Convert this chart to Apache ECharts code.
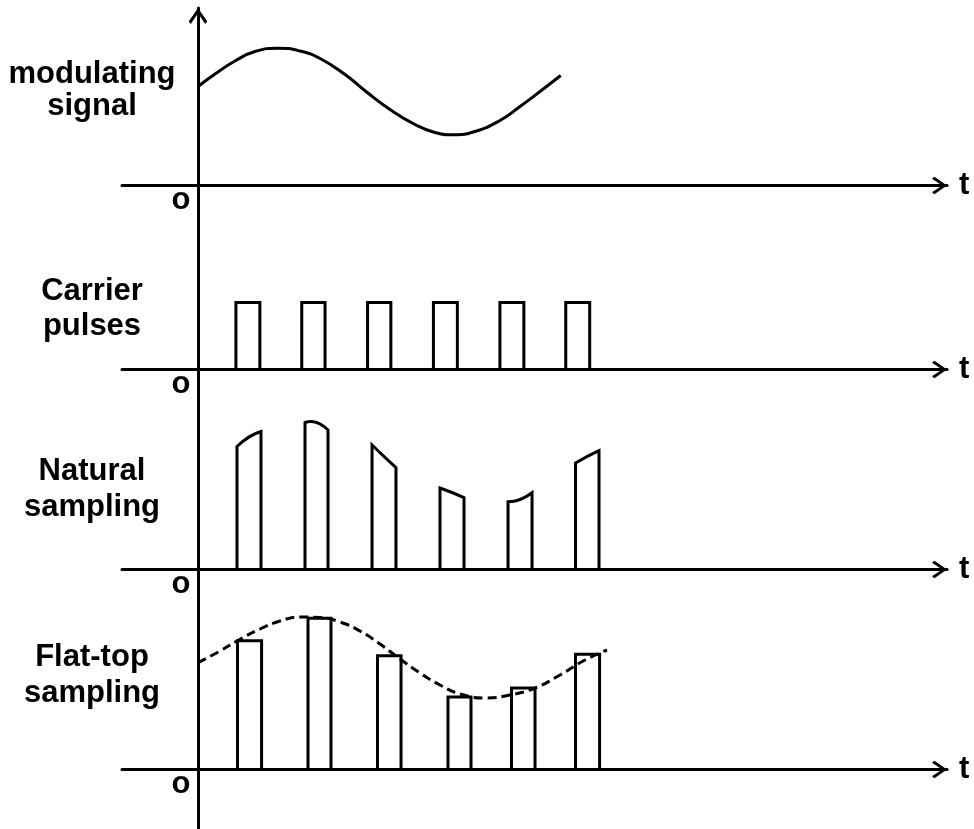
<!DOCTYPE html>
<html>
<head>
<meta charset="utf-8">
<script src="https://cdn.jsdelivr.net/npm/echarts@6/dist/echarts.min.js"></script>
<style>
  html, body { margin: 0; padding: 0; background: #fff; }
  #chart { width: 974px; height: 829px; }
</style>
</head>
<body>
<div id="chart"></div>
<script>
// time in carrier periods, amplitude in arbitrary units
var signalT = [0, 0.256, 0.556, 0.857, 1.218, 1.534, 1.835, 2.211, 2.526, 2.887, 3.263, 3.564, 3.842, 4.165, 4.541, 4.842, 5.143, 5.454]
var signalV = [0.99, 1.115, 1.245, 1.34, 1.373, 1.345, 1.27, 1.11, 0.94, 0.76, 0.61, 0.53, 0.507, 0.54, 0.65, 0.79, 0.94, 1.10]

var carrierStart = [0.57, 1.56, 2.55, 3.54, 4.54, 5.53]
var carrierEnd = [0.93, 1.91, 2.90, 3.90, 4.90, 5.89]
var carrierHeight = [0.67, 0.67, 0.67, 0.67, 0.67, 0.67]

var naturalStart = [0.586, 1.609, 2.617, 3.639, 4.662, 5.677]
var naturalEnd = [0.947, 1.955, 2.977, 4.0, 5.023, 6.03]
var naturalLeft = [1.23, 1.47, 1.245, 0.815, 0.678, 1.065]
var naturalMid = [1.325, 1.47, 1.13, 0.77, 0.70, 1.13]
var naturalRight = [1.38, 1.395, 1.018, 0.718, 0.768, 1.188]

var flatStart = [0.594, 1.654, 2.699, 3.759, 4.714, 5.677]
var flatEnd = [0.956, 2.0, 3.053, 4.105, 5.068, 6.039]
var flatTop = [1.288, 1.512, 1.138, 0.725, 0.815, 1.152]

var envelopeT = [0, 0.331, 0.586, 0.932, 1.233, 1.534, 1.835, 2.135, 2.436, 2.737, 3.038, 3.338, 3.639, 3.94, 4.331, 4.692, 5.068, 5.444, 5.82, 6.15]
var envelopeV = [1.068, 1.185, 1.285, 1.405, 1.485, 1.525, 1.52, 1.475, 1.385, 1.255, 1.105, 0.965, 0.845, 0.755, 0.715, 0.745, 0.815, 0.945, 1.095, 1.195]

var panelNames = [['modulating', 'signal'], ['Carrier', 'pulses'], ['Natural', 'sampling'], ['Flat-top', 'sampling']]
var baselines = [185.5, 369.5, 569.5, 769.5]

var chart = echarts.init(document.getElementById('chart'))

var font = 'bold 31px "Liberation Sans", Arial, sans-serif'
var arrow = 'path://M9,0 L18,13 L16,15.5 L9,5 L2,15.5 L0,13 Z'

function zip (a, b) {
  return a.map(function (v, i) { return [v, b[i]] })
}

function pulseItem (params, api) {
  var l = api.value(0)
  var r = api.value(1)
  var p0 = api.coord([l, 0])
  var p1 = api.coord([l, api.value(2)])
  var m = api.coord([(l + r) / 2, api.value(3)])
  var p3 = api.coord([r, api.value(4)])
  var p4 = api.coord([r, 0])
  var cx = 2 * m[0] - (p1[0] + p3[0]) / 2
  var cy = 2 * m[1] - (p1[1] + p3[1]) / 2
  return {
    type: 'path',
    shape: {
      pathData: 'M' + p0[0] + ',' + p0[1] + ' L' + p1[0] + ',' + p1[1] +
        ' Q' + cx + ',' + cy + ' ' + p3[0] + ',' + p3[1] + ' L' + p4[0] + ',' + p4[1]
    },
    style: { fill: 'none', stroke: '#000', lineWidth: 3, lineJoin: 'miter' }
  }
}

var carrierData = carrierStart.map(function (s, i) {
  return [s, carrierEnd[i], carrierHeight[i], carrierHeight[i], carrierHeight[i]]
})
var naturalData = naturalStart.map(function (s, i) {
  return [s, naturalEnd[i], naturalLeft[i], naturalMid[i], naturalRight[i]]
})
var flatData = flatStart.map(function (s, i) {
  return [s, flatEnd[i], flatTop[i], flatTop[i], flatTop[i]]
})

var grids = baselines.map(function (b) {
  return { left: 122, right: 27, top: b - 160, height: 160 }
})
grids.push({ left: 198, width: 10, top: 8, bottom: 0 })

var xAxes = baselines.map(function (b, i) {
  return {
    type: 'value',
    gridIndex: i,
    min: -1.143,
    max: 11.263,
    name: 't',
    nameLocation: 'end',
    nameGap: 12,
    nameTextStyle: { color: '#000', fontSize: 31, fontWeight: 'bold', fontFamily: '"Liberation Sans", Arial, sans-serif' },
    axisLine: {
      onZero: false,
      symbol: ['none', arrow],
      symbolSize: [18, 15],
      symbolOffset: [0, -7.5],
      lineStyle: { color: '#000', width: 3 }
    },
    axisTick: { show: false },
    axisLabel: { show: false },
    splitLine: { show: false }
  }
})
xAxes.push({ type: 'value', gridIndex: 4, min: 0, max: 1, show: false })

var yAxes = baselines.map(function (b, i) {
  return { type: 'value', gridIndex: i, min: 0, max: 1.6, show: false }
})
yAxes.push({
  type: 'value',
  gridIndex: 4,
  min: 0,
  max: 1,
  axisLine: {
    onZero: false,
    symbol: ['none', arrow],
    symbolSize: [19, 16],
    symbolOffset: [0, -8],
    lineStyle: { color: '#000', width: 3 }
  },
  axisTick: { show: false },
  axisLabel: { show: false },
  splitLine: { show: false }
})

var texts = []
var nameCenters = [[74, 106], [291, 326], [471, 507], [657, 693]]
panelNames.forEach(function (pair, i) {
  pair.forEach(function (txt, j) {
    texts.push({
      type: 'text',
      x: 92,
      y: nameCenters[i][j],
      style: { text: txt, font: font, fill: '#000', textAlign: 'center', textVerticalAlign: 'middle', align: 'center', verticalAlign: 'middle' }
    })
  })
  texts.push({
    type: 'text',
    x: 181,
    y: baselines[i] + 15,
    style: { text: 'o', font: font, fill: '#000', textAlign: 'center', textVerticalAlign: 'middle', align: 'center', verticalAlign: 'middle' }
  })
})

var option = {
  animation: false,
  grid: grids,
  xAxis: xAxes,
  yAxis: yAxes,
  graphic: texts,
  series: [
    {
      type: 'line',
      xAxisIndex: 0,
      yAxisIndex: 0,
      data: zip(signalT, signalV),
      smooth: true,
      showSymbol: false,
      lineStyle: { color: '#000', width: 3 }
    },
    {
      type: 'custom',
      xAxisIndex: 1,
      yAxisIndex: 1,
      renderItem: pulseItem,
      data: carrierData
    },
    {
      type: 'custom',
      xAxisIndex: 2,
      yAxisIndex: 2,
      renderItem: pulseItem,
      data: naturalData
    },
    {
      type: 'custom',
      xAxisIndex: 3,
      yAxisIndex: 3,
      renderItem: pulseItem,
      data: flatData
    },
    {
      type: 'line',
      xAxisIndex: 3,
      yAxisIndex: 3,
      data: zip(envelopeT, envelopeV),
      smooth: true,
      showSymbol: false,
      z: 3,
      lineStyle: { color: '#000', width: 3, type: [9, 5] }
    }
  ]
}
chart.setOption(option)
</script>
</body>
</html>
